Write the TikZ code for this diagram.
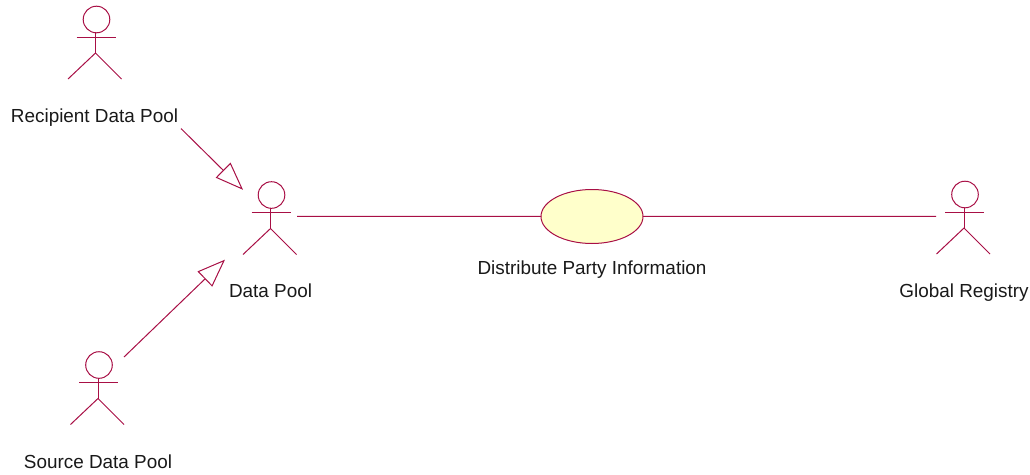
\documentclass[tikz,border=0pt]{standalone}
\usepackage{fontspec}
\setmainfont{Liberation Sans}
\usetikzlibrary{arrows.meta}
\usetikzlibrary{shapes.geometric}
\definecolor{umlline}{HTML}{A80F45}
\definecolor{umlfill}{HTML}{FFFFCB}
\tikzset{
  umlstroke/.style={draw=umlline,line width=1pt},
  actorbox/.style={inner sep=0pt,outer sep=0pt,rectangle},
  caption/.style={inner sep=0pt,font=\fontsize{18.9}{22}\selectfont,text=black!90},
  assoc/.style={umlstroke},
  gen/.style={umlstroke,-{Triangle[open,length=28pt,width=21pt,fill=white]}},
  usecase/.style={ellipse,umlstroke,fill=umlfill,minimum width=102pt,minimum height=54pt,inner sep=0pt,outer sep=0pt}
}
\newcommand{\actorfig}[2]{%
  \begin{scope}[shift={(#1,#2)}]
    \draw[umlstroke] (0,0) circle[radius=13.3];
    \draw[umlstroke] (-20,17.5) -- (19,17.5);
    \draw[umlstroke] (-1,13) -- (-1,33.5);
    \draw[umlstroke] (-28.5,59.5) -- (-1,33.5) -- (25,59.5);
  \end{scope}}
\begin{document}
\begin{tikzpicture}[x=1pt,y=-1pt]
  \useasboundingbox (0,0) rectangle (1030,474);
  \actorfig{96.5}{19.5}
  \actorfig{271.5}{195}
  \actorfig{99}{365}
  \actorfig{965}{194.5}
  \node[actorbox,minimum width=170pt,minimum height=168pt] (rec) at (96,45) {};
  \node[actorbox,minimum width=54pt,minimum height=74pt] (dp) at (270,216.3) {};
  \node[actorbox,minimum width=52pt,minimum height=60pt] (src) at (98,382) {};
  \node[actorbox,minimum width=56pt,minimum height=74pt] (reg) at (964,216.3) {};
  \node[usecase] (uc) at (592,216.5) {};
  \node[caption] (reclabel) at (94.5,117.5) {Recipient Data Pool};
  \node[caption] (dplabel) at (270.5,290.5) {Data Pool};
  \node[caption] (srclabel) at (98,462) {Source Data Pool};
  \node[caption] (uclabel) at (592,269.5) {Distribute Party Information};
  \node[caption] (reglabel) at (964,292.5) {Global Registry};
  \draw[assoc] (dp) -- (uc);
  \draw[assoc] (uc) -- (reg);
  \draw[gen] (rec) -- (dp);
  \draw[gen,shorten >=25pt] (src) -- (dp);
\end{tikzpicture}
\end{document}
